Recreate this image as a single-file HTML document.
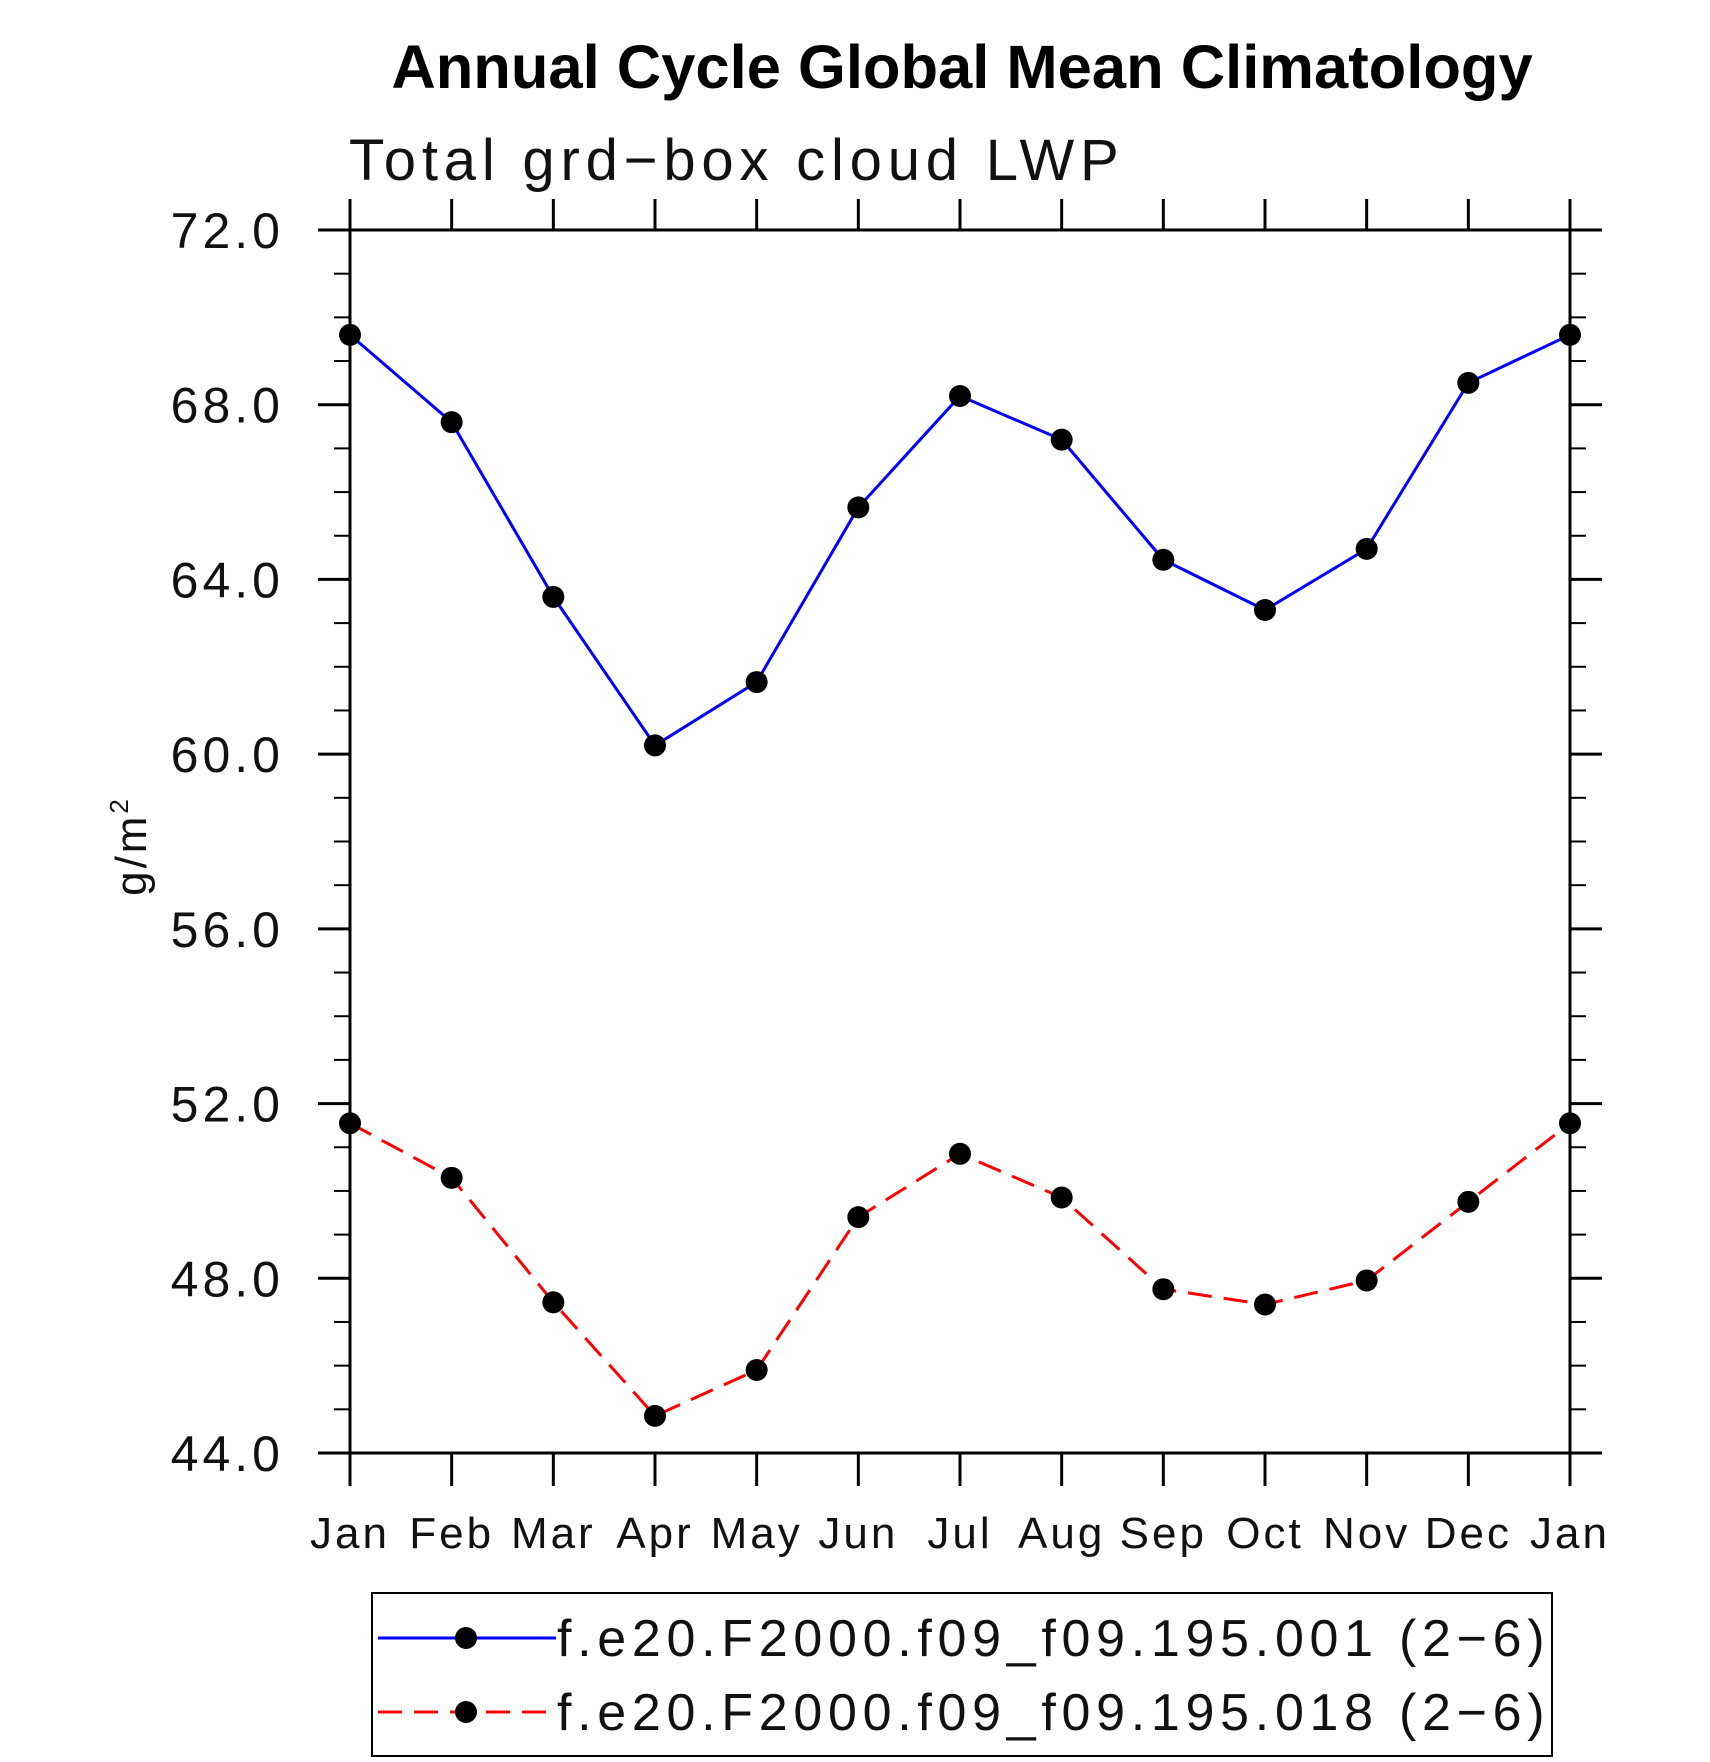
<!DOCTYPE html>
<html><head><meta charset="utf-8"><style>
html,body{margin:0;padding:0;background:#fff;}
svg{display:block;}
text{font-family:"Liberation Sans",sans-serif;}
</style></head><body>
<svg id="chart" width="1710" height="1762" viewBox="0 0 1710 1762" xmlns="http://www.w3.org/2000/svg">
<rect width="1710" height="1762" fill="#fff"/>
<text x="962" y="88" text-anchor="middle" font-size="61.5" font-weight="bold">Annual Cycle Global Mean Climatology</text>
<text x="349" y="180" font-size="58" font-weight="normal" letter-spacing="5.8" fill="#111">Total grd−box cloud LWP</text>
<text transform="translate(146,846) rotate(-90)" text-anchor="middle" font-size="44" letter-spacing="3" fill="#111">g/m<tspan font-size="26" dy="-18">2</tspan></text>
<g id="axes"></g>
<g id="series"></g>
<g id="legend">
<rect x="372" y="1593" width="1180" height="163" fill="none" stroke="#000" stroke-width="2"/>
<g>
<line x1="378" y1="1638" x2="556" y2="1638" stroke="#0000ff" stroke-width="3"/>
<circle cx="466" cy="1638" r="11" fill="#000"/>
<text x="557" y="1656" font-size="52" fill="#111" letter-spacing="5.7">f.e20.F2000.f09_f09.195.001 (2−6)</text>
</g>
<g>
<line x1="378" y1="1712" x2="556" y2="1712" stroke="#ff0000" stroke-width="3" stroke-dasharray="24,12"/>
<circle cx="466" cy="1712" r="11" fill="#000"/>
<text x="557" y="1730" font-size="52" fill="#111" letter-spacing="5.7">f.e20.F2000.f09_f09.195.018 (2−6)</text>
</g>
</g>
</svg>
<script>
const months = ["Jan","Feb","Mar","Apr","May","Jun","Jul","Aug","Sep","Oct","Nov","Dec","Jan"];
const series001 = [69.6,67.6,63.6,60.2,61.65,65.65,68.2,67.2,64.45,63.3,64.7,68.5,69.6];
const series018 = [51.55,50.3,47.45,44.85,45.9,49.4,50.85,49.85,47.75,47.4,47.95,49.75,51.55];
const yTicks = [44,48,52,56,60,64,68,72];
const yTickLabels = ["44.0","48.0","52.0","56.0","60.0","64.0","68.0","72.0"];

const NS="http://www.w3.org/2000/svg";
const X0=350,X1=1570,Y0=230,Y1=1453,YMIN=44,YMAX=72;
const xs=i=>X0+(X1-X0)*i/(months.length-1);
const ys=v=>Y1-(Y1-Y0)*(v-YMIN)/(YMAX-YMIN);
function mk(tag,attrs,parent){const e=document.createElementNS(NS,tag);for(const k in attrs)e.setAttribute(k,attrs[k]);parent.appendChild(e);return e;}
const axes=document.getElementById('axes');
const ser=document.getElementById('series');
let f=mk('rect',{x:X0,y:Y0,width:X1-X0,height:Y1-Y0,fill:'none',stroke:'#000','stroke-width':3},axes);


for(let v=YMIN;v<=YMAX;v++){
  const major=(v-YMIN)%4===0, len=major?32:16, y=ys(v);
  let t=mk('line',{x1:X0-len,y1:y,x2:X0,y2:y,stroke:'#000','stroke-width':major?3:2},axes);
  
  
  let t2=mk('line',{x1:X1,y1:y,x2:X1+len,y2:y,stroke:'#000','stroke-width':major?3:2},axes);
  
  
}
yTicks.forEach((v,i)=>{
  const tx=mk('text',{x:284,y:ys(v)+18,'text-anchor':'end','font-size':50,fill:'#111','letter-spacing':4},axes);
  tx.textContent=yTickLabels[i];
  
  
});
months.forEach((m,i)=>{
  const x=xs(i);
  let b=mk('line',{x1:x,y1:Y1,x2:x,y2:Y1+33,stroke:'#000','stroke-width':3},axes);
  
  
  let t=mk('line',{x1:x,y1:Y0-31,x2:x,y2:Y0,stroke:'#000','stroke-width':3},axes);
  
  
  const tx=mk('text',{x:x,y:1548,'text-anchor':'middle','font-size':44,fill:'#111','letter-spacing':3},axes);
  tx.textContent=m;
  
  
});
function drawSeries(vals,color,dash,name){
  const pts=vals.map((v,i)=>xs(i)+','+ys(v)).join(' ');
  const attrs={points:pts,fill:'none',stroke:color,'stroke-width':3};
  if(dash)attrs['stroke-dasharray']=dash;
  const pl=mk('polyline',attrs,ser);
  
  
  vals.forEach((v,i)=>{
    const c=mk('circle',{cx:xs(i),cy:ys(v),r:11,fill:'#000'},ser);
    
    
  });
}
drawSeries(series001,'#0000ff',null,'series-001');
drawSeries(series018,'#ff0000','24,12','series-018');
</script>
</body></html>
